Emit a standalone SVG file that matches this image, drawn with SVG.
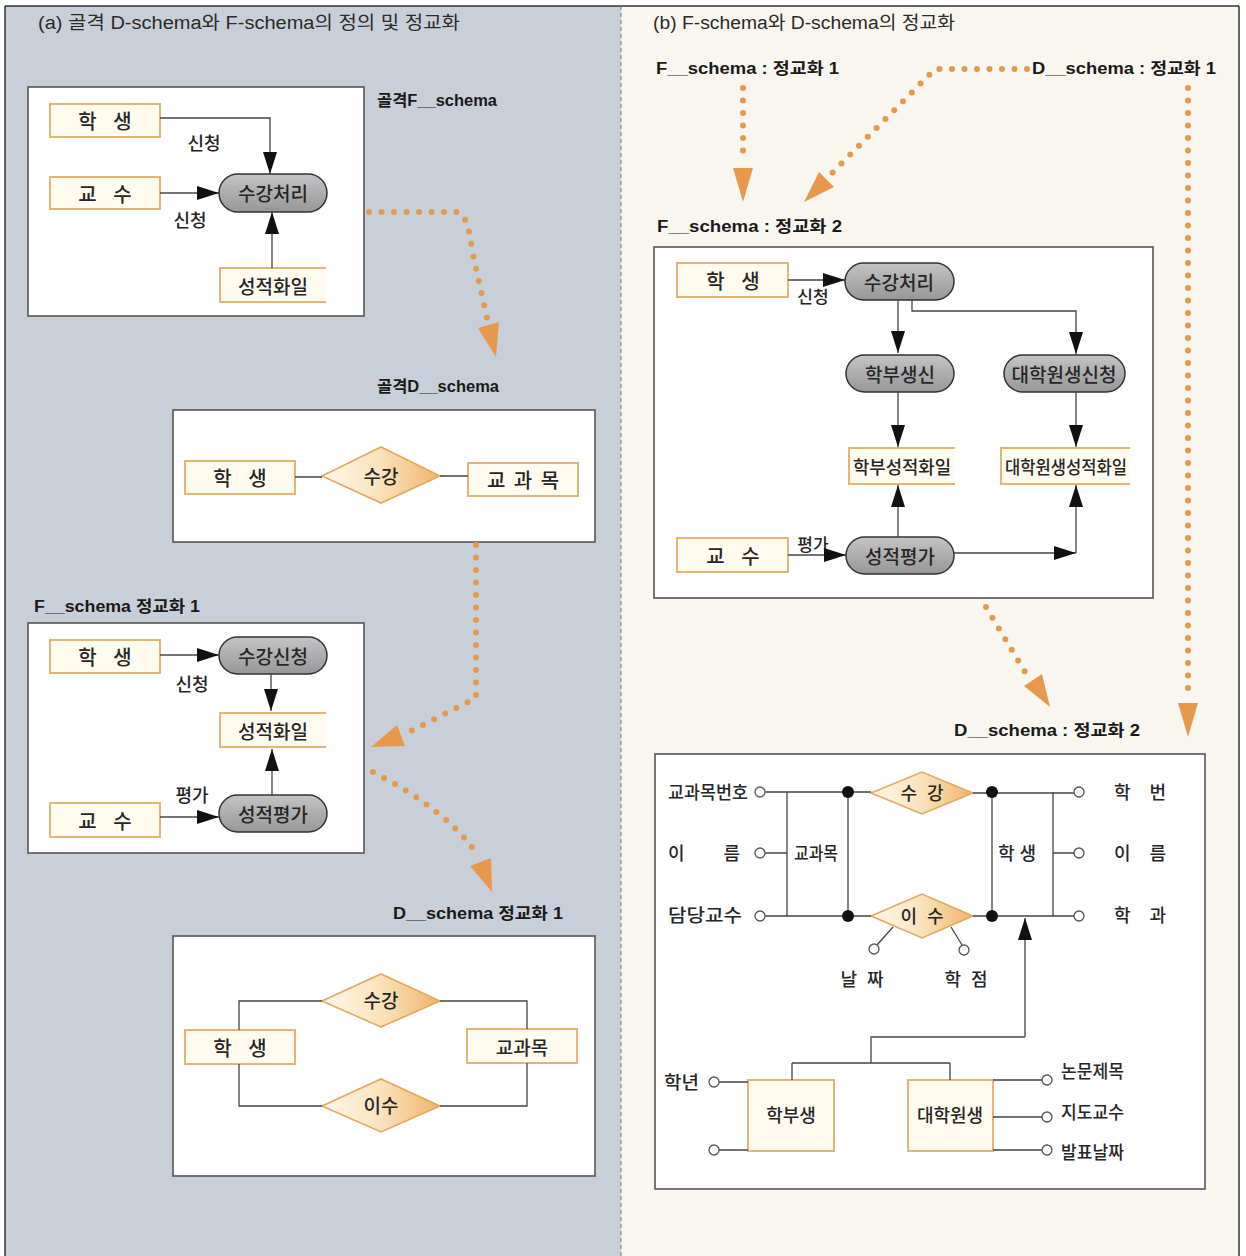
<svg xmlns="http://www.w3.org/2000/svg" width="1246" height="1256" viewBox="0 0 1246 1256">
<style>
.bg-a{fill:#c8cfd9}
.bg-b{fill:#f8f6ee}
.frame{fill:#ffffff;stroke:#555;stroke-width:1.6}
.ent{fill:#fffbef;stroke:#e3b476;stroke-width:2}
.storefill{fill:#fffbef}
.store{fill:none;stroke:#e3b476;stroke-width:2}
.pill{fill:url(#gpill);stroke:#333;stroke-width:1.5}
.dia{fill:url(#gdia);stroke:#e3a85e;stroke-width:1.6}
.ln{stroke:#444;stroke-width:1.3;fill:none}
.arr{marker-end:url(#ah)}
.dot{stroke:#e39a4f;stroke-width:6;stroke-linecap:round;stroke-dasharray:0 12.5;fill:none}
.oh{fill:#e8984a}
.att{fill:#fff;stroke:#555;stroke-width:1.3}
.bd{fill:#111}
.t{font-family:"Noto Sans CJK KR","Liberation Sans",sans-serif;fill:#262626;font-weight:500}
.c{text-anchor:middle;dominant-baseline:central}
.e{font-size:20px;word-spacing:12px}
.p{font-size:19px}
.h{font-family:"Liberation Sans","Noto Sans CJK KR",sans-serif;font-weight:bold;font-size:16px;fill:#1a1a1a}
.ti{font-family:"Liberation Sans","Noto Sans CJK KR",sans-serif;font-size:18px;fill:#2b2b2b}
.s{font-size:18px}
</style>
<defs>
<linearGradient id="gpill" x1="0" y1="0" x2="0" y2="1">
<stop offset="0" stop-color="#c4c4c4"/>
<stop offset="1" stop-color="#979797"/>
</linearGradient>
<linearGradient id="gdia" x1="0" y1="0" x2="1" y2="0">
<stop offset="0" stop-color="#fff7e8"/>
<stop offset="0.5" stop-color="#fbe2bc"/>
<stop offset="1" stop-color="#efb46a"/>
</linearGradient>
<marker id="ah" markerUnits="userSpaceOnUse" markerWidth="22" markerHeight="14" refX="22" refY="7" orient="auto">
<path d="M0,0 L22,7 L0,14 z" fill="#111"/>
</marker>
</defs>

<!-- backgrounds -->
<rect class="bg-a" x="5" y="6" width="616" height="1250"/>
<rect class="bg-b" x="621" y="6" width="618" height="1250"/>
<line x1="5" y1="6" x2="1239" y2="6" stroke="#333" stroke-width="1.5"/>
<line x1="5" y1="6" x2="5" y2="1256" stroke="#333" stroke-width="1.5"/>
<line x1="1239" y1="6" x2="1239" y2="1256" stroke="#333" stroke-width="1.5"/>
<line x1="621" y1="6" x2="621" y2="1256" stroke="#777" stroke-width="1" stroke-dasharray="4 3"/>

<text class="ti" x="38" y="29" textLength="422" lengthAdjust="spacingAndGlyphs">(a) 골격 D-schema와 F-schema의 정의 및 정교화</text>
<text class="ti" x="653" y="29" textLength="302" lengthAdjust="spacingAndGlyphs">(b) F-schema와 D-schema의 정교화</text>

<!-- ===== (a) 골격 F_schema ===== -->
<g id="skelF">
<rect class="frame" x="28" y="87" width="336" height="229"/>
<text class="h" x="377" y="106" textLength="120" lengthAdjust="spacingAndGlyphs">골격F__schema</text>
</g>
<g id="skelF-student"><rect class="ent" x="50" y="104" width="110" height="33"/><text class="t c e" x="105" y="120">학 생</text></g>
<g id="skelF-prof"><rect class="ent" x="50" y="177" width="110" height="32"/><text class="t c e" x="105" y="193">교 수</text></g>
<g id="skelF-proc"><rect class="pill" x="219" y="174" width="108" height="38" rx="19"/><text class="t c p" x="273" y="192">수강처리</text></g>
<g id="skelF-file"><rect class="storefill" x="220" y="268" width="106" height="34"/><path class="store" d="M326,268 H220 V302 H326"/><text class="t c p" x="273" y="285">성적화일</text></g>

<!-- ===== (a) 골격 D_schema ===== -->
<g id="skelD">
<text class="h" x="377" y="392" textLength="122" lengthAdjust="spacingAndGlyphs">골격D__schema</text>
<rect class="frame" x="173" y="410" width="422" height="132"/>
</g>
<g id="skelD-student"><rect class="ent" x="185" y="461" width="110" height="33"/><text class="t c e" x="240" y="477">학 생</text></g>
<g id="skelD-rel"><polygon class="dia" points="322,476 381,447 440,476 381,503"/><text class="t c p" x="381" y="475">수강</text></g>
<g id="skelD-course"><rect class="ent" x="468" y="463" width="110" height="33"/><text class="t c e" x="523" y="479" style="word-spacing:4px">교 과 목</text></g>

<!-- ===== (a) F_schema 정교화 1 ===== -->
<g id="F1">
<text class="h" x="34" y="612" textLength="166" lengthAdjust="spacingAndGlyphs">F__schema 정교화 1</text>
<rect class="frame" x="28" y="623" width="336" height="230"/>
</g>
<g id="F1-student"><rect class="ent" x="50" y="640" width="110" height="33"/><text class="t c e" x="105" y="656">학 생</text></g>
<g id="F1-apply"><rect class="pill" x="219" y="637" width="108" height="37" rx="18.5"/><text class="t c p" x="273" y="655">수강신청</text></g>
<g id="F1-file"><rect class="storefill" x="220" y="713" width="106" height="34"/><path class="store" d="M326,713 H220 V747 H326"/><text class="t c p" x="273" y="730">성적화일</text></g>
<g id="F1-prof"><rect class="ent" x="50" y="803" width="110" height="34"/><text class="t c e" x="105" y="820">교 수</text></g>
<g id="F1-eval"><rect class="pill" x="219" y="795" width="108" height="37" rx="18.5"/><text class="t c p" x="273" y="813">성적평가</text></g>

<!-- ===== (a) D_schema 정교화 1 ===== -->
<g id="D1">
<text class="h" x="393" y="919" textLength="170" lengthAdjust="spacingAndGlyphs">D__schema 정교화 1</text>
<rect class="frame" x="173" y="936" width="422" height="240"/>
</g>
<g id="D1-rel1"><polygon class="dia" points="322,1001 381,974 440,1001 381,1027"/><text class="t c p" x="381" y="999">수강</text></g>
<g id="D1-student"><rect class="ent" x="185" y="1030" width="110" height="34"/><text class="t c e" x="240" y="1047">학 생</text></g>
<g id="D1-course"><rect class="ent" x="467" y="1029" width="110" height="34"/><text class="t c p" x="522" y="1046">교과목</text></g>
<g id="D1-rel2"><polygon class="dia" points="322,1106 381,1079 440,1106 381,1132"/><text class="t c p" x="381" y="1104">이수</text></g>

<!-- ===== (b) headers ===== -->
<text class="h" x="656" y="74" textLength="183" lengthAdjust="spacingAndGlyphs">F__schema : 정교화 1</text>
<text class="h" x="1032" y="74" textLength="184" lengthAdjust="spacingAndGlyphs">D__schema : 정교화 1</text>

<!-- ===== (b) F_schema 정교화 2 ===== -->
<g id="F2">
<text class="h" x="657" y="232" textLength="185" lengthAdjust="spacingAndGlyphs">F__schema : 정교화 2</text>
<rect class="frame" x="654" y="247" width="499" height="351"/>
</g>
<g id="F2-student"><rect class="ent" x="677" y="263" width="111" height="34"/><text class="t c e" x="733" y="280">학 생</text></g>
<g id="F2-proc"><rect class="pill" x="845" y="263" width="109" height="37" rx="18.5"/><text class="t c p" x="899" y="281">수강처리</text></g>
<g id="F2-under"><rect class="pill" x="846" y="355" width="108" height="37" rx="18.5"/><text class="t c p" x="900" y="373">학부생신</text></g>
<g id="F2-grad"><rect class="pill" x="1004" y="355" width="121" height="37" rx="18.5"/><text class="t c p" x="1064" y="373">대학원생신청</text></g>
<g id="F2-ufile"><rect class="storefill" x="849" y="448" width="106" height="36"/><path class="store" d="M955,448 H849 V484 H955"/><text class="t c" x="902" y="466" font-size="18" textLength="98" lengthAdjust="spacingAndGlyphs">학부성적화일</text></g>
<g id="F2-gfile"><rect class="storefill" x="1001" y="448" width="129" height="36"/><path class="store" d="M1130,448 H1001 V484 H1130"/><text class="t c" x="1066" y="466" font-size="18" textLength="122" lengthAdjust="spacingAndGlyphs">대학원생성적화일</text></g>
<g id="F2-prof"><rect class="ent" x="677" y="538" width="111" height="34"/><text class="t c e" x="733" y="555">교 수</text></g>
<g id="F2-eval"><rect class="pill" x="846" y="537" width="108" height="37" rx="18.5"/><text class="t c p" x="900" y="555">성적평가</text></g>

<!-- ===== (b) D_schema 정교화 2 ===== -->
<g id="D2">
<text class="h" x="954" y="736" textLength="186" lengthAdjust="spacingAndGlyphs">D__schema : 정교화 2</text>
<rect class="frame" x="655" y="754" width="550" height="435"/>
</g>
<g id="D2-course">
<text class="t s" x="668" y="799" textLength="80" lengthAdjust="spacingAndGlyphs">교과목번호</text>
<text class="t s" x="668" y="860" textLength="72" lengthAdjust="spacing">이 름</text>
<text class="t s" x="668" y="922" textLength="74" lengthAdjust="spacingAndGlyphs">담당교수</text>
<text class="t s" x="794" y="860" textLength="44" lengthAdjust="spacingAndGlyphs">교과목</text>
</g>
<g id="D2-student">
<text class="t s" x="998" y="860" textLength="38" lengthAdjust="spacing">학 생</text>
<text class="t s" x="1114" y="799" textLength="52" lengthAdjust="spacing">학 번</text>
<text class="t s" x="1114" y="860" textLength="52" lengthAdjust="spacing">이 름</text>
<text class="t s" x="1114" y="922" textLength="52" lengthAdjust="spacing">학 과</text>
</g>
<g id="D2-rel1"><polygon class="dia" points="871,793 922,772 973,793 922,814"/><text class="t c s" x="922" y="792" style="word-spacing:6px">수 강</text></g>
<g id="D2-rel2"><polygon class="dia" points="871,916 922,894 973,916 922,938"/><text class="t c s" x="922" y="915" style="word-spacing:6px">이 수</text></g>
<g id="D2-attr">
<text class="t c s" x="862" y="978" style="word-spacing:6px">날 짜</text>
<text class="t c s" x="966" y="978" style="word-spacing:6px">학 점</text>
</g>
<g id="D2-under"><rect class="ent" x="748" y="1080" width="86" height="71"/><text class="t c s" x="791" y="1114">학부생</text></g>
<g id="D2-gradnode"><rect class="ent" x="908" y="1080" width="85" height="71"/><text class="t c s" x="950" y="1114">대학원생</text></g>
<g id="D2-subattr">
<text class="t s" x="664" y="1089" textLength="35" lengthAdjust="spacingAndGlyphs">학년</text>
<text class="t s" x="1061" y="1078" textLength="63" lengthAdjust="spacingAndGlyphs">논문제목</text>
<text class="t s" x="1061" y="1119" textLength="63" lengthAdjust="spacingAndGlyphs">지도교수</text>
<text class="t s" x="1061" y="1159" textLength="63" lengthAdjust="spacingAndGlyphs">발표날짜</text>
</g>

<!-- ===== connectors ===== -->
<g id="connectors">
<!-- 골격 F -->
<path class="ln arr" d="M160,118 H270 V174"/>
<text class="t c" x="204" y="142" font-size="18">신청</text>
<path class="ln arr" d="M160,193 H219"/>
<text class="t c" x="190" y="219" font-size="18">신청</text>
<path class="ln arr" d="M272,268 V212"/>
<!-- 골격 D -->
<path class="ln" d="M295,477 H322 M440,476 H468"/>
<!-- F1 -->
<path class="ln arr" d="M160,655 H219"/>
<text class="t c" x="192" y="683" font-size="18">신청</text>
<path class="ln arr" d="M271,674 V711"/>
<text class="t c" x="192" y="794" font-size="18">평가</text>
<path class="ln arr" d="M160,817 H219"/>
<path class="ln arr" d="M272,795 V749"/>
<!-- D1 -->
<path class="ln" d="M239,1030 V1001 H322 M440,1001 H527 V1029 M239,1064 V1106 H322 M440,1106 H527 V1063"/>
<!-- F2 -->
<path class="ln arr" d="M788,280 H845"/>
<text class="t c" x="813" y="295" font-size="17">신청</text>
<path class="ln arr" d="M898,300 V353"/>
<path class="ln arr" d="M912,300 V311 H1076 V354"/>
<path class="ln arr" d="M898,392 V447"/>
<path class="ln arr" d="M1076,392 V447"/>
<text class="t c" x="813" y="543" font-size="17">평가</text>
<path class="ln arr" d="M788,555 H846"/>
<path class="ln arr" d="M898,537 V485"/>
<path class="ln arr" d="M954,553 H1076"/>
<path class="ln arr" d="M1076,553 V485"/>
<!-- D2 -->
<path class="ln" d="M765,792 H871 M765,853 H787 M765,916 H871 M787,792 V916 M848,792 V916 M973,793 H1074 M973,916 H1074 M992,792 V916 M1053,792 V916 M1053,853 H1074"/>
<path class="ln" d="M893,927 L877,945 M951,927 L962,945"/>
<path class="ln arr" d="M1025,1037 V918"/>
<path class="ln" d="M1025,1037 H871 V1063 M792,1063 H950 M792,1063 V1080 M950,1063 V1080"/>
<path class="ln" d="M719,1082 H748 M719,1150 H748 M993,1080 H1042 M993,1117 H1042 M993,1150 H1042"/>
<circle class="att" cx="760" cy="792" r="5"/>
<circle class="att" cx="760" cy="853" r="5"/>
<circle class="att" cx="760" cy="916" r="5"/>
<circle class="att" cx="1079" cy="792" r="5"/>
<circle class="att" cx="1079" cy="853" r="5"/>
<circle class="att" cx="1079" cy="916" r="5"/>
<circle class="att" cx="874" cy="949" r="5"/>
<circle class="att" cx="964" cy="950" r="5"/>
<circle class="att" cx="714" cy="1082" r="5"/>
<circle class="att" cx="714" cy="1150" r="5"/>
<circle class="att" cx="1047" cy="1080" r="5"/>
<circle class="att" cx="1047" cy="1117" r="5"/>
<circle class="att" cx="1047" cy="1150" r="5"/>
<circle class="bd" cx="848" cy="792" r="6"/>
<circle class="bd" cx="848" cy="916" r="6"/>
<circle class="bd" cx="992" cy="792" r="6"/>
<circle class="bd" cx="992" cy="916" r="6"/>

<!-- orange dotted flows -->
<path class="dot" d="M369,212 H458 Q468,215 472,250 L487,318"/>
<polygon class="oh" points="499,322 478,328 496,357"/>
<path class="dot" d="M476,545 V698 L407,733"/>
<polygon class="oh" points="405,746 397,725 371,747"/>
<path class="dot" d="M373,772 Q450,812 478,856"/>
<polygon class="oh" points="491,858 470,866 492,892"/>
<path class="dot" d="M743,88 V163"/>
<polygon class="oh" points="733,168 753,168 743,202"/>
<path class="dot" d="M1027,69 H935 L832,173"/>
<polygon class="oh" points="834,187 819,172 804,202"/>
<path class="dot" d="M1188,88 V697"/>
<polygon class="oh" points="1178,703 1198,703 1188,737"/>
<path class="dot" d="M986,607 L1025,672"/>
<polygon class="oh" points="1042,674 1024,686 1050,707"/>
</g>
</svg>
